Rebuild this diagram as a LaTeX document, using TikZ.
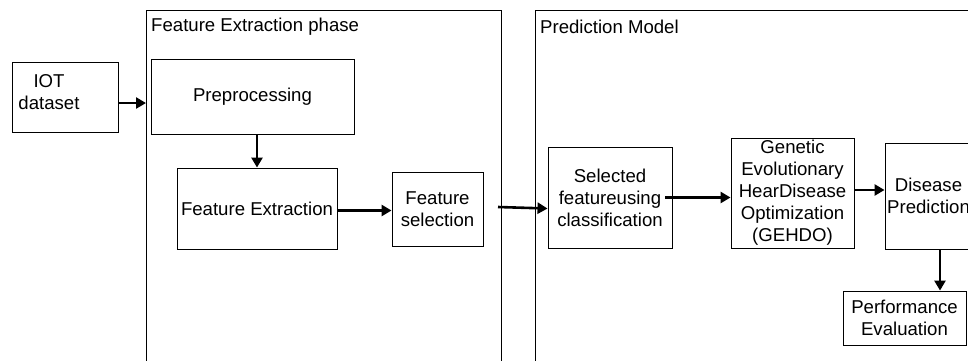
\documentclass[tikz,border=0pt]{standalone}
\usepackage{fontspec}
\setmainfont{Liberation Sans}
\usetikzlibrary{arrows.meta,positioning}

\begin{document}
\begin{tikzpicture}[x=1pt, y=-1pt,
    box/.style={draw, line width=0.9pt, inner sep=0pt, align=center,
      font=\fontsize{18.6}{22}\selectfont},
    phase/.style={draw, line width=1pt, anchor=north west, minimum height=380},
    title/.style={anchor=west, inner sep=0pt, font=\fontsize{18.6}{22}\selectfont},
    flow/.style={line width=2.6pt, -{Triangle[length=10pt,width=11pt]}}]
  \useasboundingbox (0,0) rectangle (968,360);
  \clip (0,0) rectangle (968,360);
  % the two phases, open at the bottom
  \node[phase, minimum width=355] (fephase) at (146,10) {};
  \node[phase, minimum width=500] (predmodel) at (535,10) {};
  \node[title] (fetitle) at (151,27) {Feature Extraction phase};
  \node[title] (pmtitle) at (540,27) {Prediction Model};
  % blocks
  \node[box, minimum width=106, minimum height=70] (iot) at (65,97) {};
  \node[box, draw=none] (iottext) at (49,92) {IOT\\dataset};
  \node[box, minimum width=203, minimum height=75] (pre) at (252.5,96.5) {Preprocessing};
  \node[box, minimum width=160, minimum height=81] (fe) at (257,208.5) {Feature Extraction};
  \node[box, minimum width=91, minimum height=74] (fsel) at (437.5,209) {Feature\\selection};
  \node[box, minimum width=124, minimum height=101] (sel) at (610,197.5)
    {Selected\\featureusing\\classification};
  \node[box, minimum width=123, minimum height=110] (gehdo) at (792.5,193)
    {Genetic\\Evolutionary\\HearDisease\\Optimization\\(GEHDO)};
  \node[box, minimum width=87, minimum height=106] (dis) at (928.5,196) {Disease\\Prediction};
  \node[box, minimum width=123, minimum height=54] (perf) at (904.5,318)
    {Performance\\Evaluation};
  % flow
  \coordinate (feout) at (498,207);
  \draw[flow] ([yshift=-6pt]iot.east) -- ([yshift=-6pt]iot.east -| fephase.west);
  \draw[flow] (pre.south -| fe.north) -- (fe.north);
  \draw[flow] ([yshift=-2pt]fe.east) -- ([yshift=-2pt]fe.east -| fsel.west);
  \draw[flow] (feout) -- ([yshift=-11pt]sel.west);
  \draw[flow] ([xshift=-7pt]sel.east) -- (sel.east -| gehdo.west);
  \draw[flow] ([yshift=3pt]gehdo.east) -- ([yshift=3pt]gehdo.east -| dis.west);
  \draw[flow] ([xshift=11.5pt]dis.south) -- ([xshift=11.5pt]dis.south |- perf.north);
\end{tikzpicture}
\end{document}
